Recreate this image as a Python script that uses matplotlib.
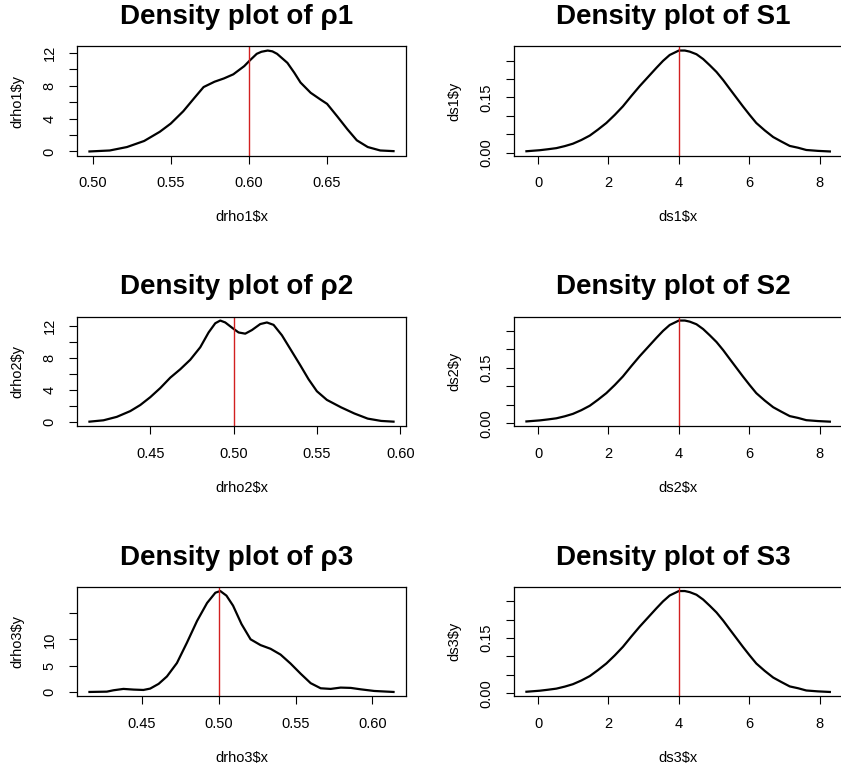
import matplotlib
matplotlib.use("Agg")
import matplotlib.pyplot as plt

plt.rcParams['font.family'] = ['Liberation Sans', 'DejaVu Sans']

# ---------------------------------------------------------------------------
# density curves
# ---------------------------------------------------------------------------
rho1_x = [0.498, 0.511, 0.522, 0.533, 0.543, 0.550, 0.558, 0.565, 0.571, 0.578,
          0.584, 0.590, 0.597, 0.6006, 0.605, 0.608, 0.612, 0.615, 0.618, 0.6246,
          0.629, 0.633, 0.6395, 0.646, 0.650, 0.6566, 0.663, 0.669, 0.676, 0.684,
          0.6925]
rho1_y = [0.0, 0.12, 0.54, 1.28, 2.4, 3.4, 4.9, 6.5, 7.85, 8.5,
          8.9, 9.4, 10.4, 11.1, 11.9, 12.15, 12.3, 12.2, 11.9, 10.8,
          9.6, 8.4, 7.15, 6.3, 5.8, 4.25, 2.7, 1.36, 0.54, 0.12,
          0.04]

rho2_x = [0.4135, 0.4219, 0.4299, 0.438, 0.444, 0.450, 0.456, 0.462, 0.468, 0.474,
          0.480, 0.485, 0.489, 0.492, 0.495, 0.4996, 0.503, 0.507, 0.511, 0.516,
          0.520, 0.524, 0.529, 0.534, 0.540, 0.545, 0.550, 0.556, 0.5645, 0.5725,
          0.5805, 0.5886, 0.596]
rho2_y = [0.0, 0.17, 0.6, 1.32, 2.08, 3.06, 4.2, 5.5, 6.55, 7.74,
          9.3, 11.15, 12.3, 12.64, 12.4, 11.66, 11.15, 11.0, 11.45, 12.2,
          12.4, 12.1, 10.8, 9.1, 7.06, 5.3, 3.8, 2.72, 1.79, 1.02,
          0.38, 0.09, 0.0]

rho3_x = [0.4159, 0.4272, 0.4315, 0.438, 0.4446, 0.451, 0.4554, 0.4609, 0.4663, 0.4728,
          0.4793, 0.4859, 0.4924, 0.4978, 0.501, 0.505, 0.5093, 0.5148, 0.5207, 0.5272,
          0.5337, 0.5402, 0.5467, 0.5533, 0.5598, 0.5663, 0.5728, 0.5793, 0.5859, 0.5924,
          0.6011, 0.6137]
rho3_y = [0.0, 0.06, 0.32, 0.58, 0.45, 0.38, 0.64, 1.54, 2.95, 5.5,
          9.36, 13.5, 16.9, 18.85, 19.17, 18.3, 16.4, 12.9, 10.0, 8.9,
          8.2, 7.1, 5.4, 3.46, 1.67, 0.7, 0.58, 0.83, 0.77, 0.5,
          0.19, 0.0]

s_x = [-0.33, 0.05, 0.28, 0.52, 0.76, 0.99, 1.23, 1.47, 1.70, 1.94,
       2.18, 2.41, 2.65, 2.89, 3.13, 3.36, 3.55, 3.74, 4.0, 4.17,
       4.31, 4.50, 4.69, 4.88, 5.07, 5.26, 5.44, 5.63, 5.82, 6.01,
       6.2, 6.44, 6.68, 6.91, 7.15, 7.39, 7.62, 7.95, 8.29]
s_y = [0.0046, 0.0074, 0.010, 0.013, 0.0185, 0.025, 0.035, 0.047, 0.063, 0.081,
       0.103, 0.126, 0.154, 0.181, 0.206, 0.230, 0.249, 0.265, 0.277, 0.277,
       0.274, 0.267, 0.254, 0.237, 0.219, 0.197, 0.174, 0.150, 0.126, 0.103,
       0.081, 0.061, 0.043, 0.031, 0.019, 0.014, 0.008, 0.0056, 0.004]

# reference (true) values drawn in red
rho_true = [0.6, 0.5, 0.5]
s_true = [4, 4, 4]

# ticks and the labels R kept
rho_xticks = [[0.50, 0.55, 0.60, 0.65],
              [0.45, 0.50, 0.55, 0.60],
              [0.45, 0.50, 0.55, 0.60]]
rho_yticks = [[0, 2, 4, 6, 8, 10, 12],
              [0, 2, 4, 6, 8, 10, 12],
              [0, 5, 10, 15]]
rho_ylabels = [['0', '', '4', '', '8', '', '12'],
               ['0', '', '4', '', '8', '', '12'],
               ['0', '5', '10', '']]
s_xticks = [0, 2, 4, 6, 8]
s_yticks = [0.00, 0.05, 0.10, 0.15, 0.20, 0.25]
s_ylabels = ['0.00', '', '', '0.15', '', '']

rho_curves = [(rho1_x, rho1_y), (rho2_x, rho2_y), (rho3_x, rho3_y)]

W, H = 841, 774
fig = plt.figure(figsize=(W / 100, H / 100), dpi=100)

rows = [(46.5, 155.5), (316.5, 425.7), (587.0, 696.0)]   # top/bottom in px
cols = [(77.3, 405.7), (514.3, 842.0)]                    # left/right in px


def make_ax(col, row):
    l, r = cols[col]
    t, b = rows[row]
    return fig.add_axes([l / W, (H - b) / H, (r - l) / W, (b - t) / H])


def style(ax, x, y, xt, yt, ylabs, vline, title, xlab, ylab, fmt):
    ax.plot(x, y, color='black', lw=1.6, solid_joinstyle='round')
    ax.axvline(vline, color='#d22020', lw=1.0)
    xr = max(x) - min(x)
    yr = max(y) - min(y)
    ax.set_xlim(min(x) - 0.04 * xr, max(x) + 0.04 * xr)
    ax.set_ylim(min(y) - 0.04 * yr, max(y) + 0.04 * yr)
    ax.set_xticks(xt)
    ax.set_xticklabels([fmt % v for v in xt])
    ax.set_yticks(yt)
    ax.set_yticklabels(ylabs)
    ax.tick_params(direction='out', length=6, width=0.8, labelsize=10.5,
                   colors='black')
    ax.tick_params(axis='x', pad=9)
    ax.tick_params(axis='y', pad=9, labelrotation=90)
    for lab in ax.get_yticklabels():
        lab.set_va('center')
    for sp in ax.spines.values():
        sp.set_linewidth(0.9)
    wpx = ax.get_position().width * W
    hpx = ax.get_position().height * H
    t = ax.set_title(title, fontsize=20, fontweight='bold', pad=16)
    t.set_x(0.5 - 5 / wpx)
    ax.set_xlabel(xlab, fontsize=10.5, va='center')
    ax.set_ylabel(ylab, fontsize=10.5, va='center')
    ax.xaxis.set_label_coords(0.5, -62 / hpx)
    ax.yaxis.set_label_coords(-60 / wpx, 0.5)


for i in range(3):
    ax = make_ax(0, i)
    x, y = rho_curves[i]
    style(ax, x, y, rho_xticks[i], rho_yticks[i], rho_ylabels[i], rho_true[i],
          'Density plot of \u03c1%d' % (i + 1), 'drho%d$x' % (i + 1),
          'drho%d$y' % (i + 1), '%.2f')

    ax = make_ax(1, i)
    style(ax, s_x, s_y, s_xticks, s_yticks, s_ylabels, s_true[i],
          'Density plot of S%d' % (i + 1), 'ds%d$x' % (i + 1),
          'ds%d$y' % (i + 1), '%d')

fig.savefig('out.png', dpi=100)
